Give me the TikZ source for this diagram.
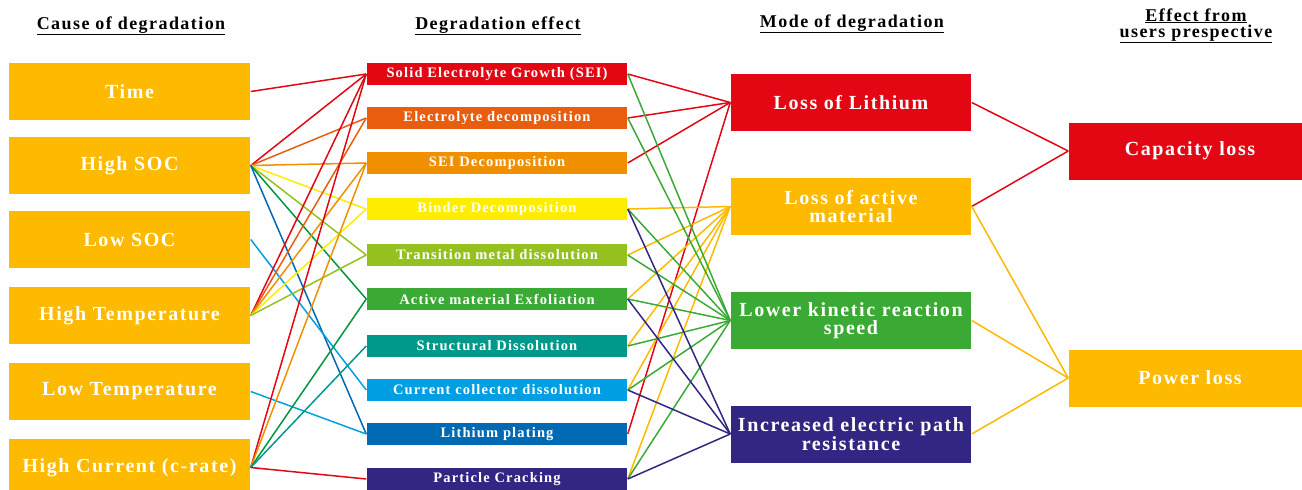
\documentclass[tikz,border=0pt]{standalone}
\usepackage{fontspec}
\setmainfont{Liberation Serif}[LetterSpace=8]
\usepackage{tikz}
\usepackage{xcolor}

\definecolor{amber}{RGB}{253,186,0}
\definecolor{cred}{RGB}{227,6,19}
\definecolor{corangedark}{RGB}{232,93,14}
\definecolor{corange}{RGB}{240,144,0}
\definecolor{cyellow}{RGB}{255,237,0}
\definecolor{clime}{RGB}{149,193,31}
\definecolor{cgreen}{RGB}{58,170,53}
\definecolor{cgreendark}{RGB}{0,150,64}
\definecolor{cteal}{RGB}{0,152,138}
\definecolor{ccyan}{RGB}{0,159,227}
\definecolor{cblue}{RGB}{0,105,180}
\definecolor{cpurple}{RGB}{49,39,131}

\begin{document}
\begin{tikzpicture}[x=1pt, y=-1pt, line width=1.5pt,
    causebox/.style={rectangle, fill=amber, text=white, inner sep=0pt,
        minimum width=241, minimum height=57,
        font=\bfseries\fontsize{20}{20}\selectfont},
    effectbox/.style={rectangle, fill=#1, text=white, inner sep=0pt,
        minimum width=260, minimum height=22,
        font=\bfseries\fontsize{14.5}{15}\selectfont},
    modebox/.style={rectangle, fill=#1, text=white, inner sep=0pt,
        minimum width=240, minimum height=57, align=center,
        font=\bfseries\fontsize{20}{18}\selectfont},
    userbox/.style={rectangle, fill=#1, text=white, inner sep=0pt,
        minimum width=242, minimum height=57,
        font=\bfseries\fontsize{20}{20}\selectfont},
    heading/.style={anchor=base, align=center,
        font=\bfseries\fontsize{18}{16}\selectfont}]
    \useasboundingbox (0,0) rectangle (1302,490);

    %% column titles
    \node (h1) [heading] at (131,29) {\underline{Cause of degradation}};
    \node (h2) [heading] at (498,29) {\underline{Degradation effect}};
    \node (h3) [heading] at (852,27) {\underline{Mode of degradation}};
    \node (h4) [heading] at (1196,37) {\underline{Effect from}\\\underline{users prespective}};

    %% causes
    \node (c1) [causebox] at (129.5,91.5) {Time};
    \node (c2) [causebox] at (129.5,165.5) {High SOC};
    \node (c3) [causebox] at (129.5,239.5) {Low SOC};
    \node (c4) [causebox] at (129.5,315.5) {High Temperature};
    \node (c5) [causebox] at (129.5,391.5) {Low Temperature};
    \node (c6) [causebox] at (129.5,467.5) {High Current (c-rate)};

    %% degradation effects
    \node (e1) [effectbox=cred] at (497,74) {Solid Electrolyte Growth (SEI)};
    \node (e2) [effectbox=corangedark] at (497,118) {Electrolyte decomposition};
    \node (e3) [effectbox=corange] at (497,163) {SEI Decomposition};
    \node (e4) [effectbox=cyellow] at (497,209) {Binder Decomposition};
    \node (e5) [effectbox=clime] at (497,255) {Transition metal dissolution};
    \node (e6) [effectbox=cgreen] at (497,299) {Active material Exfoliation};
    \node (e7) [effectbox=cteal] at (497,346) {Structural Dissolution};
    \node (e8) [effectbox=ccyan] at (497,390) {Current collector dissolution};
    \node (e9) [effectbox=cblue] at (497,434) {Lithium plating};
    \node (e10) [effectbox=cpurple] at (497,479) {Particle Cracking};

    %% modes
    \node (m1) [modebox=cred] at (851,102.5) {Loss of Lithium};
    \node (m2) [modebox=amber] at (851,206.5) {Loss of active\\material};
    \node (m3) [modebox=cgreen] at (851,320.5) {Lower kinetic reaction\\speed};
    \node (m4) [modebox=cpurple] at (851,434) {Increased electric path\\resistance};

    %% what the user notices
    \node (u1) [userbox=cred] at (1190,151) {Capacity loss};
    \node (u2) [userbox=amber] at (1190,378) {Power loss};

    %% causes -> effects
    \draw [cred] (c1.east) -- (e1.west);
    \draw [cred] (c2.east) -- (e1.west);
    \draw [corangedark] (c2.east) -- (e2.west);
    \draw [corange] (c2.east) -- (e3.west);
    \draw [cyellow] (c2.east) -- (e4.west);
    \draw [clime] (c2.east) -- (e5.west);
    \draw [cgreendark] (c2.east) -- (e6.west);
    \draw [cblue] (c2.east) -- (e9.west);
    \draw [ccyan] (c3.east) -- (e8.west);
    \draw [cred] (c4.east) -- (e1.west);
    \draw [corangedark] (c4.east) -- (e2.west);
    \draw [corange] (c4.east) -- (e3.west);
    \draw [cyellow] (c4.east) -- (e4.west);
    \draw [clime] (c4.east) -- (e5.west);
    \draw [ccyan] (c5.east) -- (e9.west);
    \draw [cred] (c6.east) -- (e1.west);
    \draw [corange] (c6.east) -- (e3.west);
    \draw [cgreendark] (c6.east) -- (e6.west);
    \draw [cteal] (c6.east) -- (e7.west);
    \draw [cred] (c6.east) -- (e10.west);

    %% effects -> modes
    \draw [cred] (e1.east) -- (m1.west);
    \draw [cred] (e2.east) -- (m1.west);
    \draw [cred] (e3.east) -- (m1.west);
    \draw [cred] (e9.east) -- (m1.west);

    \draw [amber] (e4.east) -- (m2.west);
    \draw [amber] (e5.east) -- (m2.west);
    \draw [amber] (e6.east) -- (m2.west);
    \draw [amber] (e7.east) -- (m2.west);
    \draw [amber] (e8.east) -- (m2.west);
    \draw [amber] (e10.east) -- (m2.west);

    \draw [cgreen] (e1.east) -- (m3.west);
    \draw [cgreen] (e2.east) -- (m3.west);
    \draw [cgreen] (e4.east) -- (m3.west);
    \draw [cgreen] (e5.east) -- (m3.west);
    \draw [cgreen] (e6.east) -- (m3.west);
    \draw [cgreen] (e7.east) -- (m3.west);
    \draw [cgreen] (e8.east) -- (m3.west);
    \draw [cgreen] (e10.east) -- (m3.west);

    \draw [cpurple] (e4.east) -- (m4.west);
    \draw [cpurple] (e6.east) -- (m4.west);
    \draw [cpurple] (e8.east) -- (m4.west);
    \draw [cpurple] (e10.east) -- (m4.west);

    %% modes -> user view
    \draw [cred] (m1.east) -- (u1.west);
    \draw [cred] (m2.east) -- (u1.west);
    \draw [amber] (m2.east) -- (u2.west);
    \draw [amber] (m3.east) -- (u2.west);
    \draw [amber] (m4.east) -- (u2.west);

\end{tikzpicture}
\end{document}
